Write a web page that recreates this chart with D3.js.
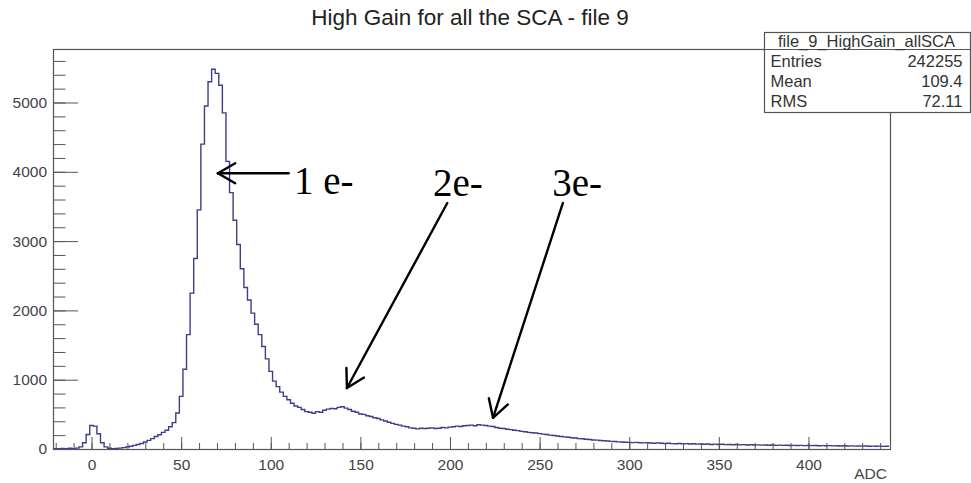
<!DOCTYPE html>
<html>
<head>
<meta charset="utf-8">
<title>High Gain for all the SCA - file 9</title>
<style>
  body { margin: 0; background: #fff; }
  svg { display: block; font-family: "Liberation Sans", Arial, sans-serif; }
  .axis path { display: none; }
  .axis line { stroke: #555; }
  .axis text { fill: #444; font-size: 15.5px; }
  .note { font-family: "Liberation Serif", "Times New Roman", serif; font-size: 39px; fill: #000; }
</style>
</head>
<body>
<script src="https://d3js.org/d3.v7.min.js"></script>
<script>

// histogram: 2 ADC wide bins, first bin starts at -21
var binStart = -21,
    binWidth = 2;

var counts = [
  5, 3, 8, 4, 10, 6, 12, 30, 90, 210,             // -20 .. -2
  340, 330, 220, 90, 30, 10, 5, 8, 12, 20,         // 0 .. 18
  28, 40, 52, 65, 80, 100, 125, 150, 180, 205,     // 20 .. 38
  240, 270, 320, 380, 520, 760, 1150, 1650, 2250, 2750,   // 40 .. 58
  3450, 4400, 4950, 5300, 5480, 5420, 5250, 4850, 4150, 3700, // 60 .. 78
  3300, 2950, 2600, 2330, 2150, 1960, 1800, 1650, 1480, 1300, // 80 .. 98
  1120, 980, 900, 820, 760, 710, 660, 620, 600, 570,          // 100 .. 118
  540, 530, 515, 540, 530, 560, 575, 585, 580, 600,           // 120 .. 138
  610, 590, 570, 545, 530, 505, 500, 480, 470, 450,           // 140 .. 158
  440, 420, 405, 385, 370, 355, 345, 330, 320, 305,           // 160 .. 178
  300, 290, 300, 295, 300, 305, 295, 300, 310, 305,           // 180 .. 198
  315, 320, 330, 325, 335, 340, 345, 335, 350, 345,           // 200 .. 218
  340, 330, 325, 310, 300, 295, 285, 280, 270, 265,           // 220 .. 238
  255, 250, 240, 235, 230, 222, 215, 210, 200, 195,           // 240 .. 258
  188, 180, 175, 170, 162, 158, 150, 148, 140, 138,           // 260 .. 278
  130, 128, 122, 118, 115, 110, 108, 103, 100, 98,            // 280 .. 298
  95, 92, 96, 90, 88, 92, 86, 84, 88, 82,                     // 300 .. 318
  80, 84, 78, 76, 80, 74, 78, 72, 75, 70,                     // 320 .. 338
  73, 68, 72, 66, 70, 65, 68, 63, 66, 62,                     // 340 .. 358
  64, 60, 63, 58, 62, 57, 60, 56, 58, 54,                     // 360 .. 378
  57, 53, 56, 52, 55, 51, 53, 50, 52, 49,                     // 380 .. 398
  51, 48, 50, 47, 49, 46, 48, 45, 47, 44,                     // 400 .. 418
  46, 43, 45, 42, 44, 41, 43, 40, 42, 39,                     // 420 .. 438
  41, 38, 40                                                  // 440 .. 444
];

var xMajor = [0, 50, 100, 150, 200, 250, 300, 350, 400];
var xMinor = d3.range(-20, 446, 10);
var yMajor = [0, 1000, 2000, 3000, 4000, 5000];
var yMinor = d3.range(0, 5780, 200);

var statNames = ["Entries", "Mean", "RMS"];
var statValues = ["242255", "109.4", "72.11"];

var title = "High Gain for all the SCA - file 9";
var histName = "file_9_HighGain_allSCA";
var xTitle = "ADC";

// annotations: label, arrow start / tip and text anchor, in data units
var noteLabels = ["1 e-", "2e-", "3e-"];
var noteFrom = [[110, 3980], [198.5, 3550], [263, 3550]];
var noteTo = [[70.5, 3980], [142.5, 880], [224, 450]];
var noteText = [[113, 3680], [190.5, 3650], [257, 3650]];

var W = 971, H = 483;
var margin = { left: 53, right: 81, top: 49, bottom: 34 };

var svg = d3.select("body").append("svg")
    .attr("width", W)
    .attr("height", H);

var x = d3.scaleLinear()
    .domain([-21.5, 445.5])
    .range([margin.left, W - margin.right]);

var y = d3.scaleLinear()
    .domain([0, 5772])
    .range([H - margin.bottom, margin.top]);

var plotW = W - margin.left - margin.right,
    plotH = H - margin.top - margin.bottom;

// frame
svg.append("rect")
    .attr("x", margin.left + 0.5)
    .attr("y", margin.top + 0.5)
    .attr("width", plotW)
    .attr("height", plotH)
    .attr("fill", "none")
    .attr("stroke", "#555")
    .attr("stroke-width", 1.2);

// histogram outline
var pts = counts.map(function (c, i) { return [binStart + i * binWidth, c]; });
pts.push([binStart + counts.length * binWidth, counts[counts.length - 1]]);

var line = d3.line()
    .x(function (d) { return x(d[0]); })
    .y(function (d) { return y(d[1]); })
    .curve(d3.curveStepAfter);

svg.append("path")
    .datum(pts)
    .attr("d", line)
    .attr("fill", "none")
    .attr("stroke", "#3d3d8e")
    .attr("stroke-width", 1.4);

// axes (ticks inside, ROOT style)
var xAxisY = H - margin.bottom;

svg.append("g")
    .attr("class", "axis")
    .attr("transform", "translate(0," + xAxisY + ")")
    .call(d3.axisBottom(x).tickValues(xMinor).tickSize(-6).tickFormat(""));

svg.append("g")
    .attr("class", "axis")
    .attr("transform", "translate(0," + xAxisY + ")")
    .call(d3.axisBottom(x).tickValues(xMajor).tickSize(-12).tickPadding(18).tickFormat(d3.format("d")))
    .selectAll("text").attr("dy", "0.2em");

svg.append("g")
    .attr("class", "axis")
    .attr("transform", "translate(" + margin.left + ",0)")
    .call(d3.axisLeft(y).tickValues(yMinor).tickSize(-12.5).tickFormat(""));

svg.append("g")
    .attr("class", "axis")
    .attr("transform", "translate(" + margin.left + ",0)")
    .call(d3.axisLeft(y).tickValues(yMajor).tickSize(-25).tickPadding(6).tickFormat(d3.format("d")))
    .selectAll("text").attr("x", -6);

svg.append("text")
    .attr("x", x(445.5) - 3)
    .attr("y", 479)
    .attr("text-anchor", "end")
    .attr("fill", "#444")
    .style("font-size", "15.5px")
    .text(xTitle);

// title
svg.append("text")
    .attr("x", 470)
    .attr("y", 25)
    .attr("text-anchor", "middle")
    .attr("fill", "#222")
    .style("font-size", "22.5px")
    .text(title);

// stats box
var box = svg.append("g").attr("transform", "translate(764.5,32.5)");
box.append("rect")
    .attr("width", 206)
    .attr("height", 80)
    .attr("fill", "#fff")
    .attr("stroke", "#555")
    .attr("stroke-width", 1.2);
box.append("line")
    .attr("x1", 0).attr("x2", 206)
    .attr("y1", 17).attr("y2", 17)
    .attr("stroke", "#555");
box.append("text")
    .attr("x", 102)
    .attr("y", 14)
    .attr("text-anchor", "middle")
    .attr("fill", "#333")
    .style("font-size", "16.5px")
    .text(histName);
statNames.forEach(function (n, i) {
    box.append("text")
        .attr("x", 6)
        .attr("y", 34 + i * 20)
        .attr("fill", "#333")
        .style("font-size", "16.5px")
        .text(n);
    box.append("text")
        .attr("x", 198)
        .attr("y", 34 + i * 20)
        .attr("text-anchor", "end")
        .attr("fill", "#333")
        .style("font-size", "16.5px")
        .text(statValues[i]);
});

// hand-drawn arrows + labels
function arrow(from, to) {
    var x0 = x(from[0]), y0 = y(from[1]), x1 = x(to[0]), y1 = y(to[1]);
    var a = Math.atan2(y1 - y0, x1 - x0), len = 20, spread = Math.PI / 6;
    var g = svg.append("g")
        .attr("stroke", "#000")
        .attr("stroke-width", 2.4)
        .attr("stroke-linecap", "round")
        .attr("fill", "none");
    g.append("line").attr("x1", x0).attr("y1", y0).attr("x2", x1).attr("y2", y1);
    [-spread, spread].forEach(function (s) {
        g.append("line")
            .attr("x1", x1).attr("y1", y1)
            .attr("x2", x1 - len * Math.cos(a + s))
            .attr("y2", y1 - len * Math.sin(a + s));
    });
}

noteLabels.forEach(function (t, i) {
    arrow(noteFrom[i], noteTo[i]);
    svg.append("text")
        .attr("class", "note")
        .attr("x", x(noteText[i][0]))
        .attr("y", y(noteText[i][1]))
        .text(t);
});

</script>
</body>
</html>
